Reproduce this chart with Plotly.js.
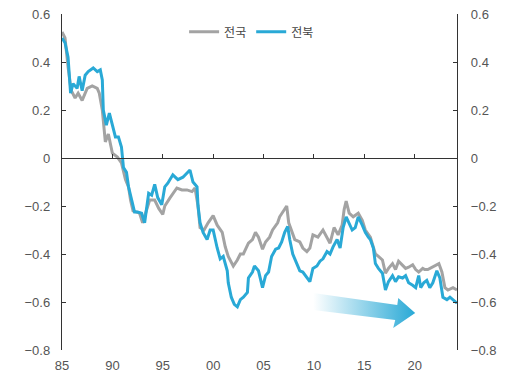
<!DOCTYPE html>
<html>
<head>
<meta charset="utf-8">
<script src="https://cdn.plot.ly/plotly-3.0.1.min.js"></script>
<style>html,body{margin:0;padding:0;background:#fff;}#chart{width:506px;height:380px;}</style>
</head>
<body>
<div id="chart"></div>
<script>
// 전국 (national)
const yearsNational = [1985.0,1985.3,1985.6,1985.9,1986.3,1986.6,1987.0,1987.5,1988.0,1988.5,1988.7,1989.0,1989.3,1989.6,1990.0,1990.5,1990.9,1991.3,1991.6,1991.8,1992.05,1992.7,1993.0,1993.4,1993.7,1994.2,1994.6,1995.0,1995.2,1995.7,1996.4,1996.9,1997.4,1997.9,1998.2,1998.5,1998.7,1999.1,1999.5,2000.0,2000.4,2000.9,2001.2,2001.5,2002.0,2002.4,2002.7,2003.0,2003.5,2003.9,2004.2,2004.5,2004.9,2005.2,2005.6,2005.9,2006.4,2006.6,2006.9,2007.3,2007.5,2007.8,2008.1,2008.6,2008.9,2009.3,2009.6,2009.9,2010.4,2010.9,2011.3,2011.6,2012.0,2012.4,2012.8,2013.0,2013.2,2013.5,2013.9,2014.4,2014.8,2015.1,2015.6,2015.9,2016.1,2016.4,2016.8,2017.1,2017.4,2017.8,2018.1,2018.4,2018.8,2019.1,2019.4,2019.8,2020.1,2020.4,2020.8,2021.0,2021.3,2021.7,2022.2,2022.4,2022.7,2023.0,2023.3,2023.8,2024.2];
const valuesNational = [0.525,0.50,0.38,0.283,0.25,0.27,0.24,0.29,0.30,0.29,0.27,0.20,0.067,0.10,0.02,0.004,-0.02,-0.09,-0.12,-0.175,-0.22,-0.23,-0.27,-0.22,-0.175,-0.175,-0.21,-0.235,-0.20,-0.167,-0.125,-0.133,-0.133,-0.14,-0.125,-0.20,-0.29,-0.30,-0.27,-0.24,-0.28,-0.31,-0.37,-0.41,-0.45,-0.425,-0.40,-0.40,-0.355,-0.34,-0.31,-0.33,-0.38,-0.35,-0.33,-0.30,-0.27,-0.245,-0.225,-0.20,-0.27,-0.31,-0.34,-0.35,-0.375,-0.39,-0.375,-0.32,-0.33,-0.30,-0.335,-0.355,-0.29,-0.32,-0.28,-0.215,-0.18,-0.23,-0.245,-0.23,-0.26,-0.30,-0.33,-0.37,-0.40,-0.41,-0.425,-0.48,-0.46,-0.44,-0.465,-0.43,-0.445,-0.46,-0.455,-0.445,-0.465,-0.475,-0.46,-0.465,-0.465,-0.455,-0.445,-0.44,-0.475,-0.54,-0.55,-0.54,-0.55];

// 전북 (Jeonbuk)
const yearsJeonbuk = [1985.0,1985.3,1985.6,1985.8,1985.85,1986.1,1986.5,1986.7,1987.0,1987.3,1987.6,1988.1,1988.5,1988.8,1989.0,1989.1,1989.4,1989.7,1990.1,1990.3,1990.6,1990.9,1991.0,1991.1,1991.4,1991.6,1992.0,1992.2,1992.5,1992.9,1993.2,1993.4,1993.6,1993.9,1994.2,1994.5,1994.9,1995.2,1995.5,1996.0,1996.5,1997.0,1997.5,1997.7,1998.0,1998.4,1998.5,1998.7,1999.0,1999.4,1999.7,2000.0,2000.4,2000.7,2001.0,2001.4,2001.5,2001.8,2002.1,2002.4,2002.7,2003.0,2003.4,2003.5,2003.9,2004.1,2004.5,2004.9,2005.2,2005.5,2005.8,2006.2,2006.5,2006.8,2007.1,2007.4,2007.6,2007.9,2008.3,2008.6,2008.9,2009.3,2009.6,2009.9,2010.3,2010.6,2010.9,2011.3,2011.6,2011.9,2012.3,2012.6,2012.9,2013.2,2013.5,2013.8,2014.1,2014.4,2014.8,2015.1,2015.4,2015.6,2015.9,2016.1,2016.4,2016.8,2017.1,2017.4,2017.8,2018.1,2018.4,2018.8,2019.1,2019.4,2019.8,2020.1,2020.4,2020.6,2020.9,2021.2,2021.5,2021.8,2022.2,2022.5,2022.8,2023.2,2023.5,2023.8,2024.2];
const valuesJeonbuk = [0.50,0.48,0.42,0.325,0.27,0.31,0.29,0.34,0.28,0.345,0.36,0.375,0.36,0.367,0.325,0.20,0.137,0.187,0.125,0.088,0.088,0.046,0.004,-0.04,-0.06,-0.12,-0.19,-0.225,-0.225,-0.23,-0.27,-0.20,-0.147,-0.155,-0.11,-0.165,-0.195,-0.12,-0.105,-0.07,-0.09,-0.08,-0.06,-0.05,-0.10,-0.12,-0.20,-0.27,-0.31,-0.34,-0.30,-0.30,-0.375,-0.42,-0.41,-0.47,-0.52,-0.58,-0.61,-0.62,-0.59,-0.58,-0.56,-0.50,-0.475,-0.45,-0.47,-0.54,-0.49,-0.475,-0.41,-0.38,-0.375,-0.35,-0.31,-0.285,-0.34,-0.40,-0.44,-0.47,-0.475,-0.50,-0.515,-0.46,-0.45,-0.43,-0.42,-0.39,-0.40,-0.37,-0.34,-0.375,-0.29,-0.245,-0.27,-0.30,-0.29,-0.245,-0.28,-0.31,-0.33,-0.34,-0.375,-0.44,-0.46,-0.48,-0.55,-0.515,-0.49,-0.515,-0.495,-0.50,-0.49,-0.52,-0.53,-0.54,-0.49,-0.54,-0.52,-0.51,-0.54,-0.52,-0.47,-0.50,-0.58,-0.59,-0.58,-0.59,-0.605];

const seriesNames = ['전국', '전북'];
const xTickVals = [1985, 1990, 1995, 2000, 2005, 2010, 2015, 2020];
const xTickText = ['85', '90', '95', '00', '05', '10', '15', '20'];
const yTickVals = [0.6, 0.4, 0.2, 0, -0.2, -0.4, -0.6, -0.8];

// decorative trend arrow outline (data coordinates)
const arrowX = [2009.93, 2018.27, 2018.37, 2020.05, 2017.87, 2018.07, 2009.93, 2009.93];
const arrowY = [-0.5625, -0.6125, -0.583, -0.646, -0.708, -0.675, -0.633, -0.5625];

const grey = '#A3A3A3';
const blue = '#29A9D6';
const axisColor = '#333333';
const tickFont = {family: 'Liberation Sans, Arial, sans-serif', size: 13, color: '#555555'};

const traces = [
  {
    x: arrowX, y: arrowY, mode: 'none', fill: 'toself',
    fillgradient: {type: 'horizontal', colorscale: [[0, 'rgba(41,169,214,0)'], [0.55, 'rgba(41,169,214,0.55)'], [1, 'rgba(41,169,214,1)']]},
    hoverinfo: 'skip', showlegend: false
  },
  {x: yearsNational, y: valuesNational, name: seriesNames[0], mode: 'lines', line: {color: grey, width: 3}},
  {x: yearsJeonbuk, y: valuesJeonbuk, name: seriesNames[1], mode: 'lines', line: {color: blue, width: 3}}
];

const xRange = [1985, 2024.2];
const yRange = [-0.8, 0.6];

const layout = {
  width: 506, height: 380,
  margin: {l: 62, r: 49, t: 14, b: 30},
  paper_bgcolor: '#ffffff', plot_bgcolor: '#ffffff',
  showlegend: true,
  legend: {
    orientation: 'h', x: 0.48, xanchor: 'center', y: 0.99, yanchor: 'top',
    font: {family: 'Noto Sans CJK KR, sans-serif', size: 12, color: '#444444'},
    bgcolor: 'rgba(0,0,0,0)', itemwidth: 30, traceorder: 'normal'
  },
  xaxis: {
    range: xRange, showgrid: false, zeroline: false, showline: false,
    tickmode: 'array', tickvals: xTickVals, ticktext: xTickText,
    ticks: '', tickfont: tickFont, ticklabelstandoff: 6, fixedrange: true
  },
  xaxis2: {
    overlaying: 'x', anchor: 'free', position: (0 - yRange[0]) / (yRange[1] - yRange[0]),
    range: xRange, showgrid: false, zeroline: false, showline: true, linecolor: axisColor, linewidth: 1.2,
    tickmode: 'array', tickvals: xTickVals.slice(1), ticks: 'inside', ticklen: 4, tickcolor: axisColor, tickwidth: 1,
    showticklabels: false, fixedrange: true
  },
  yaxis: {
    range: yRange, showgrid: false, zeroline: false, showline: true, linecolor: axisColor, linewidth: 1.2,
    tickmode: 'array', tickvals: yTickVals, ticks: 'inside', ticklen: 4, tickcolor: axisColor,
    tickfont: tickFont, ticklabelstandoff: 8, fixedrange: true
  },
  yaxis2: {
    overlaying: 'y', side: 'right', anchor: 'x',
    range: yRange, showgrid: false, zeroline: false, showline: true, linecolor: axisColor, linewidth: 1.2,
    tickmode: 'array', tickvals: yTickVals, ticks: 'inside', ticklen: 4, tickcolor: axisColor,
    tickfont: tickFont, ticklabelstandoff: 10, fixedrange: true
  }
};

// dummy trace so the right axis and zero-line axis render
traces.push({x: [xRange[0]], y: [0], xaxis: 'x2', yaxis: 'y2', mode: 'markers', marker: {opacity: 0}, hoverinfo: 'skip', showlegend: false});

Plotly.newPlot('chart', traces, layout, {displayModeBar: false, staticPlot: true});
</script>
</body>
</html>
